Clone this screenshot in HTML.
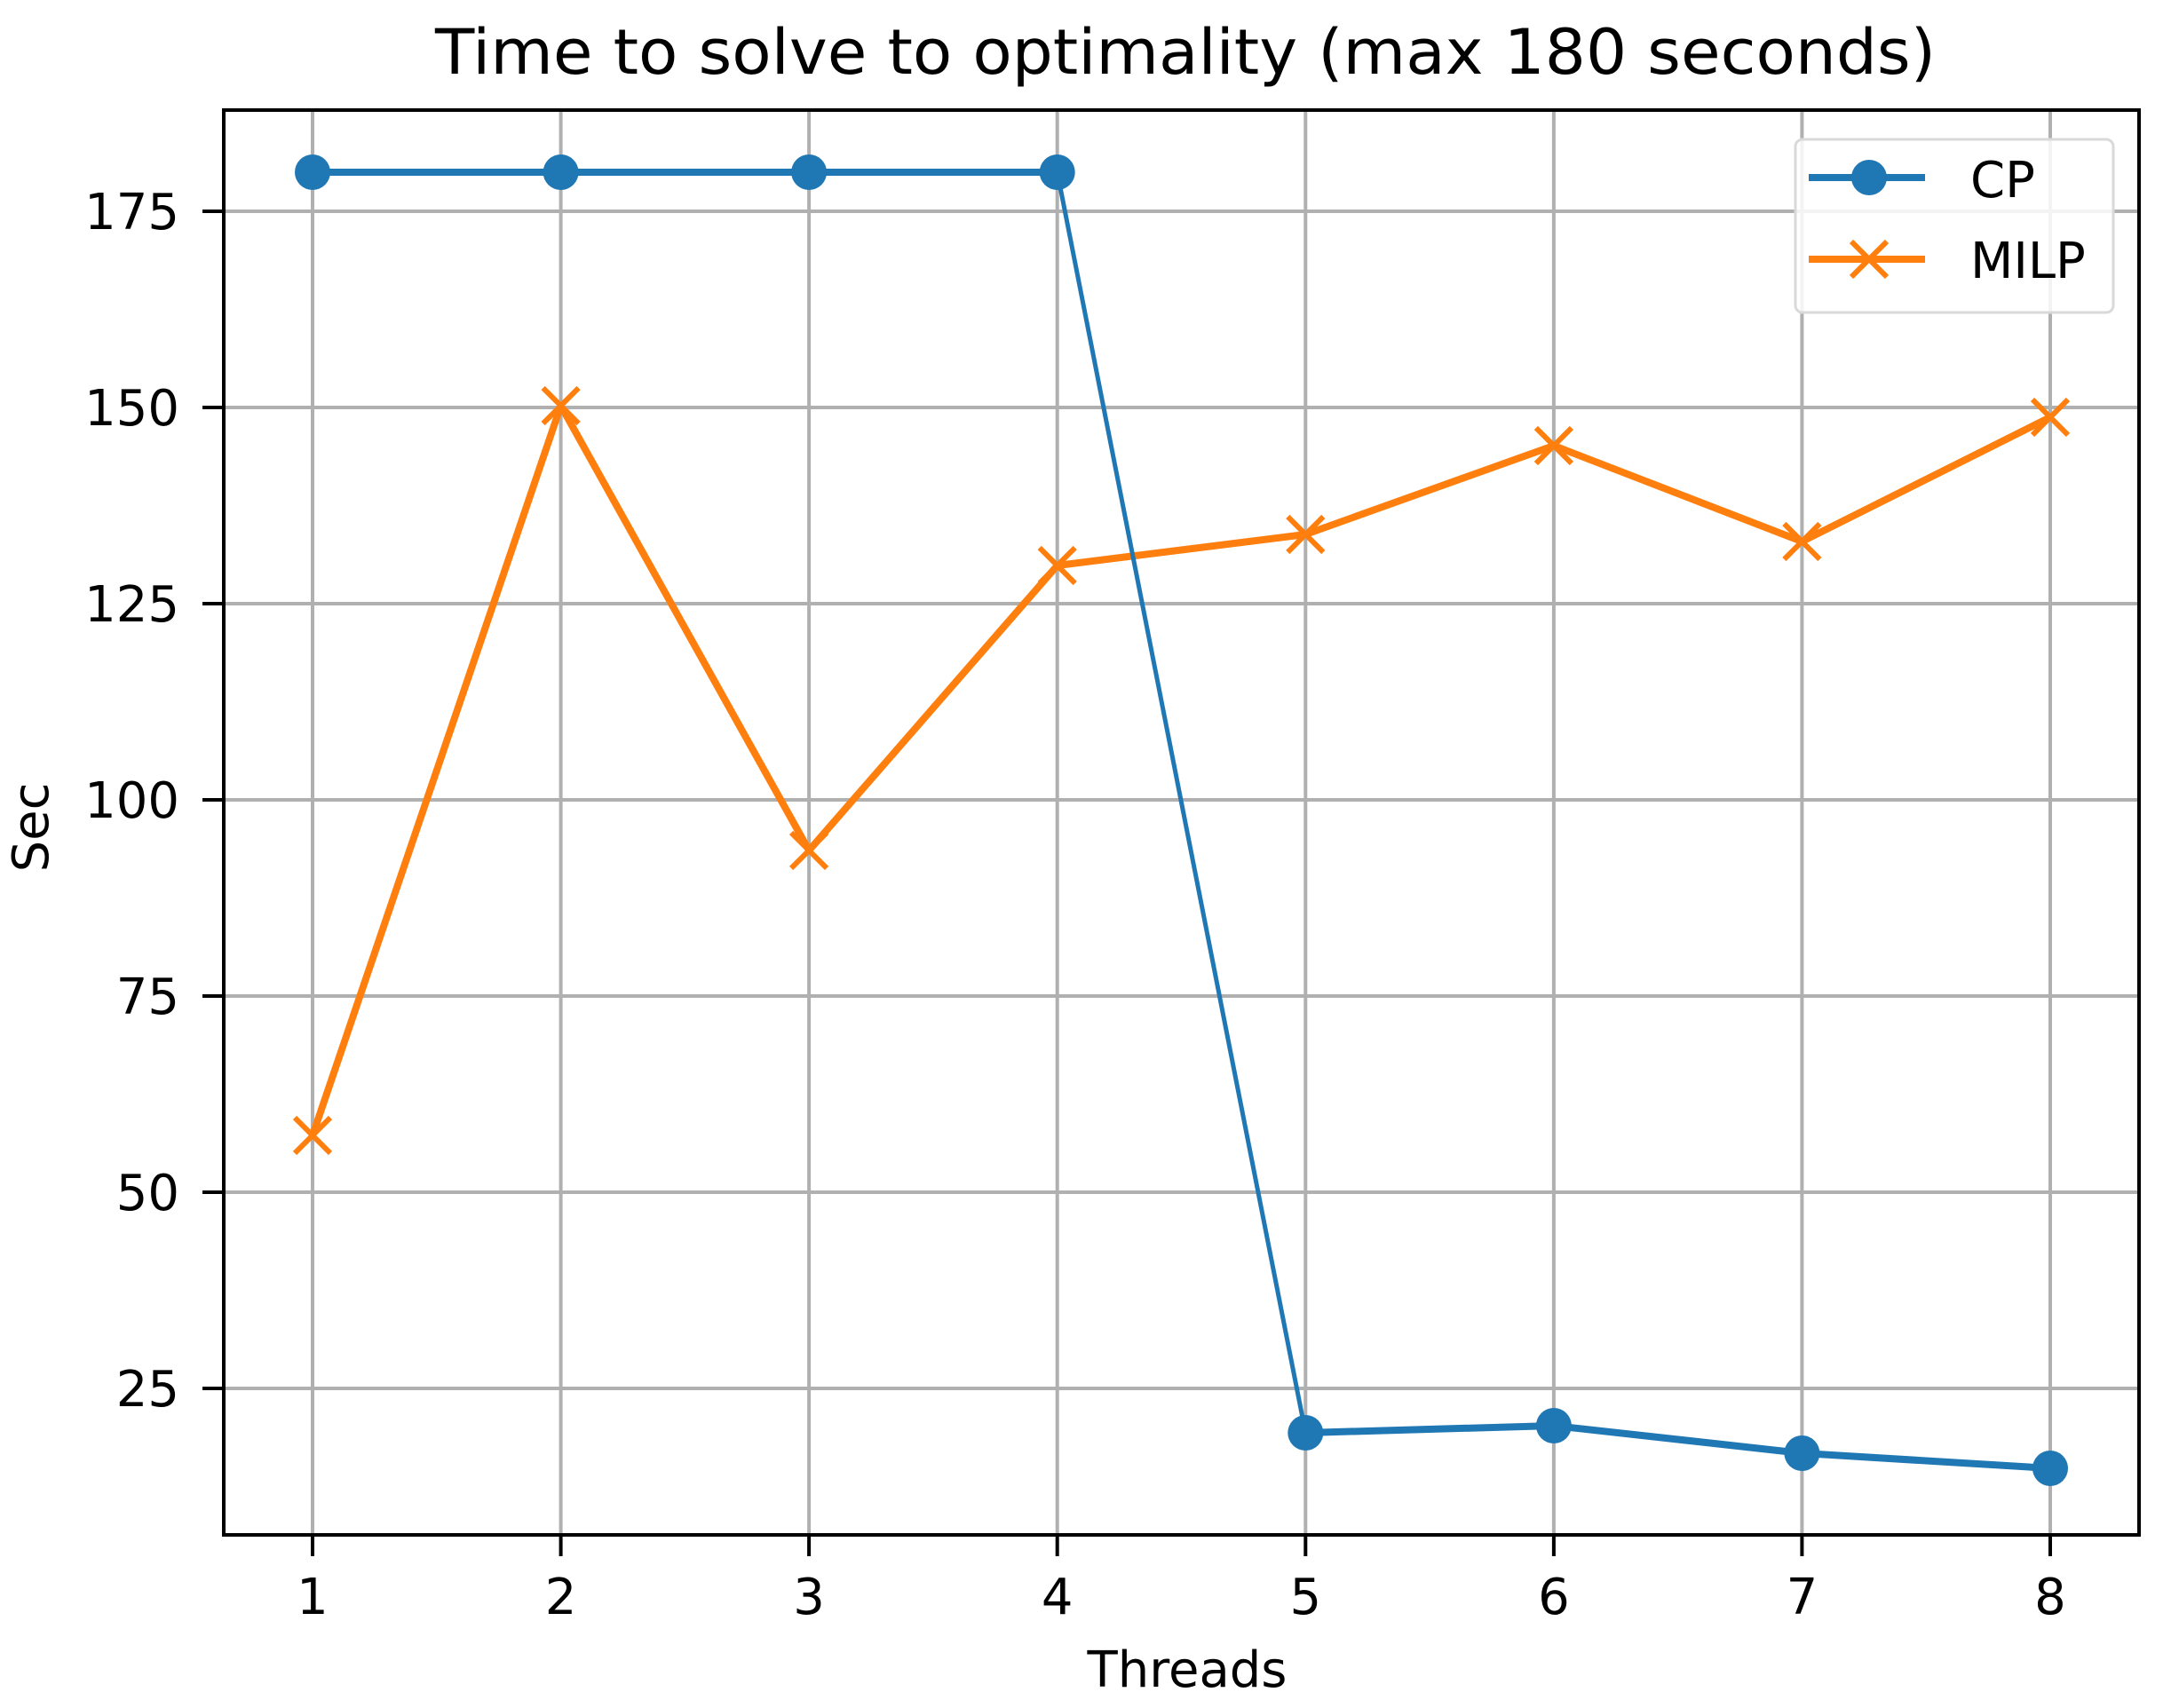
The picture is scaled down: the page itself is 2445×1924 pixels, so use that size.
<!DOCTYPE html>
<html><head><meta charset="utf-8"><style>html,body{margin:0;padding:0;background:#fff}svg{display:block}</style></head>
<body>
<svg width="2445" height="1924" viewBox="0 0 2445 1924" xmlns="http://www.w3.org/2000/svg" font-family="'DejaVu Sans','Liberation Sans',sans-serif">
<rect width="2445" height="1924" fill="#fff"/>
<text x="1335" y="83" font-size="70" text-anchor="middle" textLength="1690" lengthAdjust="spacingAndGlyphs" fill="#000">Time to solve to optimality (max 180 seconds)</text>
<g stroke="#b0b0b0" stroke-width="4">
<line x1="352" y1="124" x2="352" y2="1729"/><line x1="631.6" y1="124" x2="631.6" y2="1729"/>
<line x1="911.1" y1="124" x2="911.1" y2="1729"/><line x1="1190.7" y1="124" x2="1190.7" y2="1729"/>
<line x1="1470.3" y1="124" x2="1470.3" y2="1729"/><line x1="1749.9" y1="124" x2="1749.9" y2="1729"/>
<line x1="2029.4" y1="124" x2="2029.4" y2="1729"/><line x1="2309" y1="124" x2="2309" y2="1729"/>
<line x1="252" y1="1564" x2="2409" y2="1564"/><line x1="252" y1="1343" x2="2409" y2="1343"/>
<line x1="252" y1="1122" x2="2409" y2="1122"/><line x1="252" y1="901" x2="2409" y2="901"/>
<line x1="252" y1="680" x2="2409" y2="680"/><line x1="252" y1="459" x2="2409" y2="459"/>
<line x1="252" y1="238" x2="2409" y2="238"/>
</g>
<!-- MILP -->
<polyline fill="none" stroke="#ff7f0e" stroke-width="8" stroke-linejoin="round" points="352,1279 631.6,457 911.1,958 1190.7,637 1470.3,602 1749.9,502 2029.4,610 2309,470"/>
<g stroke="#ff7f0e" stroke-width="6">
<path d="M332,1259l40,40M372,1259l-40,40"/><path d="M611.6,437l40,40M651.6,437l-40,40"/>
<path d="M891.1,938l40,40M931.1,938l-40,40"/><path d="M1170.7,617l40,40M1210.7,617l-40,40"/>
<path d="M1450.3,582l40,40M1490.3,582l-40,40"/><path d="M1729.9,482l40,40M1769.9,482l-40,40"/>
<path d="M2009.4,590l40,40M2049.4,590l-40,40"/><path d="M2289,450l40,40M2329,450l-40,40"/>
</g>
<!-- CP -->
<polyline fill="none" stroke="#1f77b4" stroke-width="8" stroke-linejoin="round" points="352,194 631.6,194 911.1,194 1190.7,194"/>
<line x1="1190.7" y1="194" x2="1470.3" y2="1614" stroke="#1f77b4" stroke-width="5"/>
<polyline fill="none" stroke="#1f77b4" stroke-width="8" stroke-linejoin="round" points="1470.3,1614 1749.9,1606 2029.4,1637 2309,1654"/>
<g fill="#1f77b4">
<circle cx="352" cy="194" r="20"/><circle cx="631.6" cy="194" r="20"/><circle cx="911.1" cy="194" r="20"/><circle cx="1190.7" cy="194" r="20"/>
<circle cx="1470.3" cy="1614" r="20"/><circle cx="1749.9" cy="1606" r="20"/><circle cx="2029.4" cy="1637" r="20"/><circle cx="2309" cy="1654" r="20"/>
</g>
<!-- axes -->
<rect x="252" y="124" width="2157" height="1605" fill="none" stroke="#000" stroke-width="4"/>
<g stroke="#000" stroke-width="4">
<line x1="352" y1="1729" x2="352" y2="1753"/><line x1="631.6" y1="1729" x2="631.6" y2="1753"/>
<line x1="911.1" y1="1729" x2="911.1" y2="1753"/><line x1="1190.7" y1="1729" x2="1190.7" y2="1753"/>
<line x1="1470.3" y1="1729" x2="1470.3" y2="1753"/><line x1="1749.9" y1="1729" x2="1749.9" y2="1753"/>
<line x1="2029.4" y1="1729" x2="2029.4" y2="1753"/><line x1="2309" y1="1729" x2="2309" y2="1753"/>
<line x1="228" y1="1564" x2="252" y2="1564"/><line x1="228" y1="1343" x2="252" y2="1343"/>
<line x1="228" y1="1122" x2="252" y2="1122"/><line x1="228" y1="901" x2="252" y2="901"/>
<line x1="228" y1="680" x2="252" y2="680"/><line x1="228" y1="459" x2="252" y2="459"/>
<line x1="228" y1="238" x2="252" y2="238"/>
</g>
<g font-size="56" fill="#000" text-anchor="middle">
<text x="352" y="1818">1</text><text x="631.6" y="1818">2</text><text x="911.1" y="1818">3</text><text x="1190.7" y="1818">4</text>
<text x="1470.3" y="1818">5</text><text x="1749.9" y="1818">6</text><text x="2029.4" y="1818">7</text><text x="2309" y="1818">8</text>
<text x="1337" y="1900">Threads</text>
</g>
<g font-size="56" fill="#000" text-anchor="end">
<text x="202" y="1584">25</text><text x="202" y="1363">50</text><text x="202" y="1142">75</text>
<text x="202" y="921">100</text><text x="202" y="700">125</text><text x="202" y="479">150</text><text x="202" y="258">175</text>
</g>
<text transform="translate(54,932) rotate(-90)" font-size="56" text-anchor="middle" fill="#000">Sec</text>
<!-- legend -->
<rect x="2022" y="157" width="358" height="195" rx="8" fill="#fff" fill-opacity="0.85" stroke="#d9d9d9" stroke-width="3"/>
<line x1="2037" y1="200" x2="2168" y2="200" stroke="#1f77b4" stroke-width="8"/>
<circle cx="2105" cy="200" r="20" fill="#1f77b4"/>
<line x1="2037" y1="292" x2="2168" y2="292" stroke="#ff7f0e" stroke-width="8"/>
<path d="M2085,272l40,40M2125,272l-40,40" stroke="#ff7f0e" stroke-width="6"/>
<text x="2219" y="222" font-size="56" fill="#000">CP</text>
<text x="2219" y="313" font-size="56" fill="#000">MILP</text>
</svg>
</body></html>
